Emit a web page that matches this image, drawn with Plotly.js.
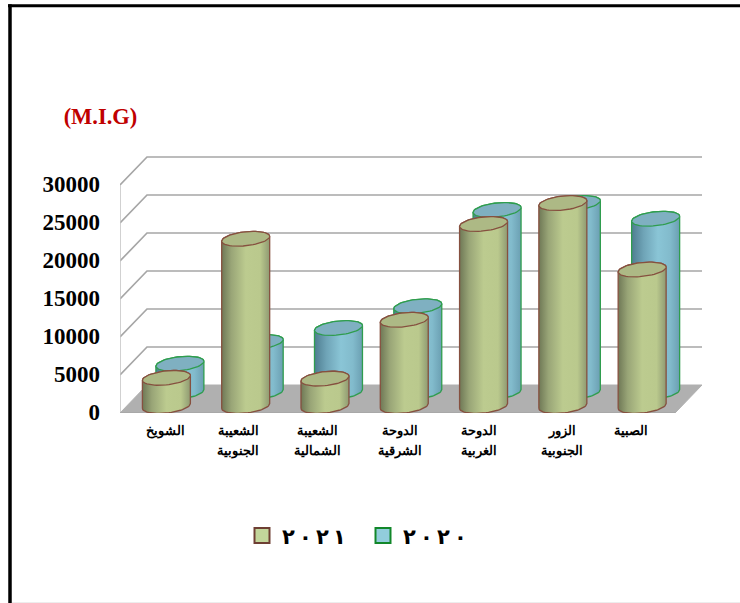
<!DOCTYPE html>
<html><head><meta charset="utf-8">
<script src="https://cdn.plot.ly/plotly-3.0.1.min.js"></script>
<style>html,body{margin:0;padding:0;background:#fff}</style></head>
<body><div id="chart" style="width:740px;height:603px"></div>
<script>
const categories = ["الشويخ","الشعيبة<br>الجنوبية","الشعيبة<br>الشمالية","الدوحة<br>الشرقية","الدوحة<br>الغربية","الزور<br>الجنوبية","الصبية"];
const values2021 = [3700,22000,3600,11340,23950,26700,17960];
const values2020 = [3720,6580,8420,11280,23950,24870,22800];
const yTicks = [0,5000,10000,15000,20000,25000,30000];
const labelPos = [0.08,0.99,1.99,3.03,4.03,5.08,5.94];
const sep = "\u200E\u2009\u200E";
const name2021 = ["٢","٠","٢","١"].join(sep);
const name2020 = ["٢","٠","٢","٠"].join(sep);
const title = "(M.I.G)";

// projection of the pseudo-3D box, in axis units
const depthX = 0.3405, depthY = 3684;
const halfW = 0.3026, halfH = 921, tilt = 316;
const xMin = -0.5, xFront = 6.5, xMax = 6.84, yMax = 34868;

const traces = [];
function poly(xs, ys, extra){ traces.push(Object.assign({type:'scatter',mode:'lines',x:xs,y:ys,hoverinfo:'skip',showlegend:false,cliponaxis:false},extra)); }

// floor
poly([xMin,xMin+depthX,xMax,xFront,xMin],[0,depthY,depthY,0,0],{fill:'toself',fillcolor:'#b0b0b0',line:{color:'#b0b0b0',width:1}});
// wall grid
yTicks.forEach(v=>{
  if(v>0){
    poly([xMin,xMin+depthX,xMax],[v,v+depthY,v+depthY],{line:{color:'#a6a6a6',width:1.7}});
  }
});
poly([xMin,xMin],[0,30000],{line:{color:'#c2c2c2',width:1.5}});
poly([xMin,xFront],[0,0],{line:{color:'#a6a6a6',width:1.5}});

function ellipsePts(cx,cy,from,to,n){
  const xs=[],ys=[];
  for(let k=0;k<=n;k++){
    const t=from+(to-from)*k/n;
    xs.push(cx+halfW*Math.cos(t));
    ys.push(cy+halfH*Math.sin(t)+tilt*Math.cos(t));
  }
  return [xs,ys];
}
function cylinder(i,v,depth,scale,topColor,edge){
  const cx=i+depth*depthX, base=depth*depthY;
  const low=ellipsePts(cx,base,Math.PI,2*Math.PI,30);   // lower arc, left to right
  const up=ellipsePts(cx,base+v,0,Math.PI,30);          // back arc, right to left
  poly(low[0].concat(up[0],[low[0][0]]),low[1].concat(up[1],[low[1][0]]),{
    fill:'toself',line:{color:edge,width:1.3},
    fillgradient:{type:'horizontal',colorscale:scale,start:cx-halfW,stop:cx+halfW}
  });
  const top=ellipsePts(cx,base+v,0,2*Math.PI,60);
  poly(top[0],top[1],{fill:'toself',fillcolor:topColor,line:{color:edge,width:1.3}});
}
const blueScale=[[0,'#4e7d90'],[0.25,'#6fa4b7'],[0.55,'#8ac5d6'],[0.8,'#82bbcc'],[1,'#6b9fb2']];
const greenScale=[[0,'#6f7856'],[0.2,'#99a577'],[0.5,'#bccb8f'],[0.8,'#bac98d'],[1,'#8f9a72']];
values2020.forEach((v,i)=>cylinder(i,v,0.75,blueScale,'#7fb0c1','#2f9d4e'));
values2021.forEach((v,i)=>cylinder(i,v,0.25,greenScale,'#adb985','#86503f'));

traces.push({type:'scatter',mode:'markers',x:[null],y:[null],name:name2021,hoverinfo:'skip',marker:{symbol:'square',size:15,color:'#c3d69b',line:{color:'#6e3f33',width:2}}});
traces.push({type:'scatter',mode:'markers',x:[null],y:[null],name:name2020,hoverinfo:'skip',marker:{symbol:'square',size:15,color:'#92cddc',line:{color:'#12872a',width:2}}});

const W=740,H=603,ml=120,mr=38,mt=147.7,mb=190.3,pw=W-ml-mr,ph=H-mt-mb;
const px=x=>(x-ml)/pw, py=y=>(H-mb-y)/ph;
const frame=(x0,y0,x1,y1,c,w)=>({type:'line',xref:'paper',yref:'paper',x0:px(x0),y0:py(y0),x1:px(x1),y1:py(y1),line:{color:c,width:w},layer:'above'});

Plotly.newPlot('chart',traces,{
  width:W,height:H,paper_bgcolor:'#fff',plot_bgcolor:'rgba(0,0,0,0)',
  margin:{l:ml,r:mr,t:mt,b:mb},
  title:{text:title,x:100.5/W,xanchor:'center',xref:'container',y:1-116/H,yanchor:'middle',yref:'container',
    font:{family:'Liberation Serif',size:22.5,color:'#c00000',weight:'bold'}},
  xaxis:{range:[xMin,xMax],tickmode:'array',tickvals:labelPos,
    ticktext:categories.map(c=>'<span style="font-size:13px">'+c+'</span>'),
    showgrid:false,zeroline:false,showline:false,ticks:'',tickangle:0,ticklabelstandoff:6,
    tickfont:{family:'Liberation Sans',size:15,color:'#000',weight:'bold'}},
  yaxis:{range:[0,yMax],tickmode:'array',tickvals:yTicks,ticktext:yTicks.map(String),
    showgrid:false,zeroline:false,showline:false,ticks:'',ticklabelstandoff:19,ticklabelshift:-1,
    tickfont:{family:'Liberation Serif',size:23,color:'#000',weight:'bold'}},
  legend:{orientation:'h',x:px(242),y:py(515),xanchor:'left',yanchor:'top',traceorder:'normal',
    entrywidth:76,entrywidthmode:'pixels',
    font:{family:'DejaVu Sans',size:21,color:'#000',weight:'bold'},bgcolor:'rgba(0,0,0,0)'},
  shapes:[frame(8,5.5,740,5.5,'#000',3),frame(10,4,10,603,'#000',3.5),frame(12,602.5,740,602.5,'#e6e6e6',1)],
  showlegend:true
},{displayModeBar:false,staticPlot:true});
</script></body></html>
